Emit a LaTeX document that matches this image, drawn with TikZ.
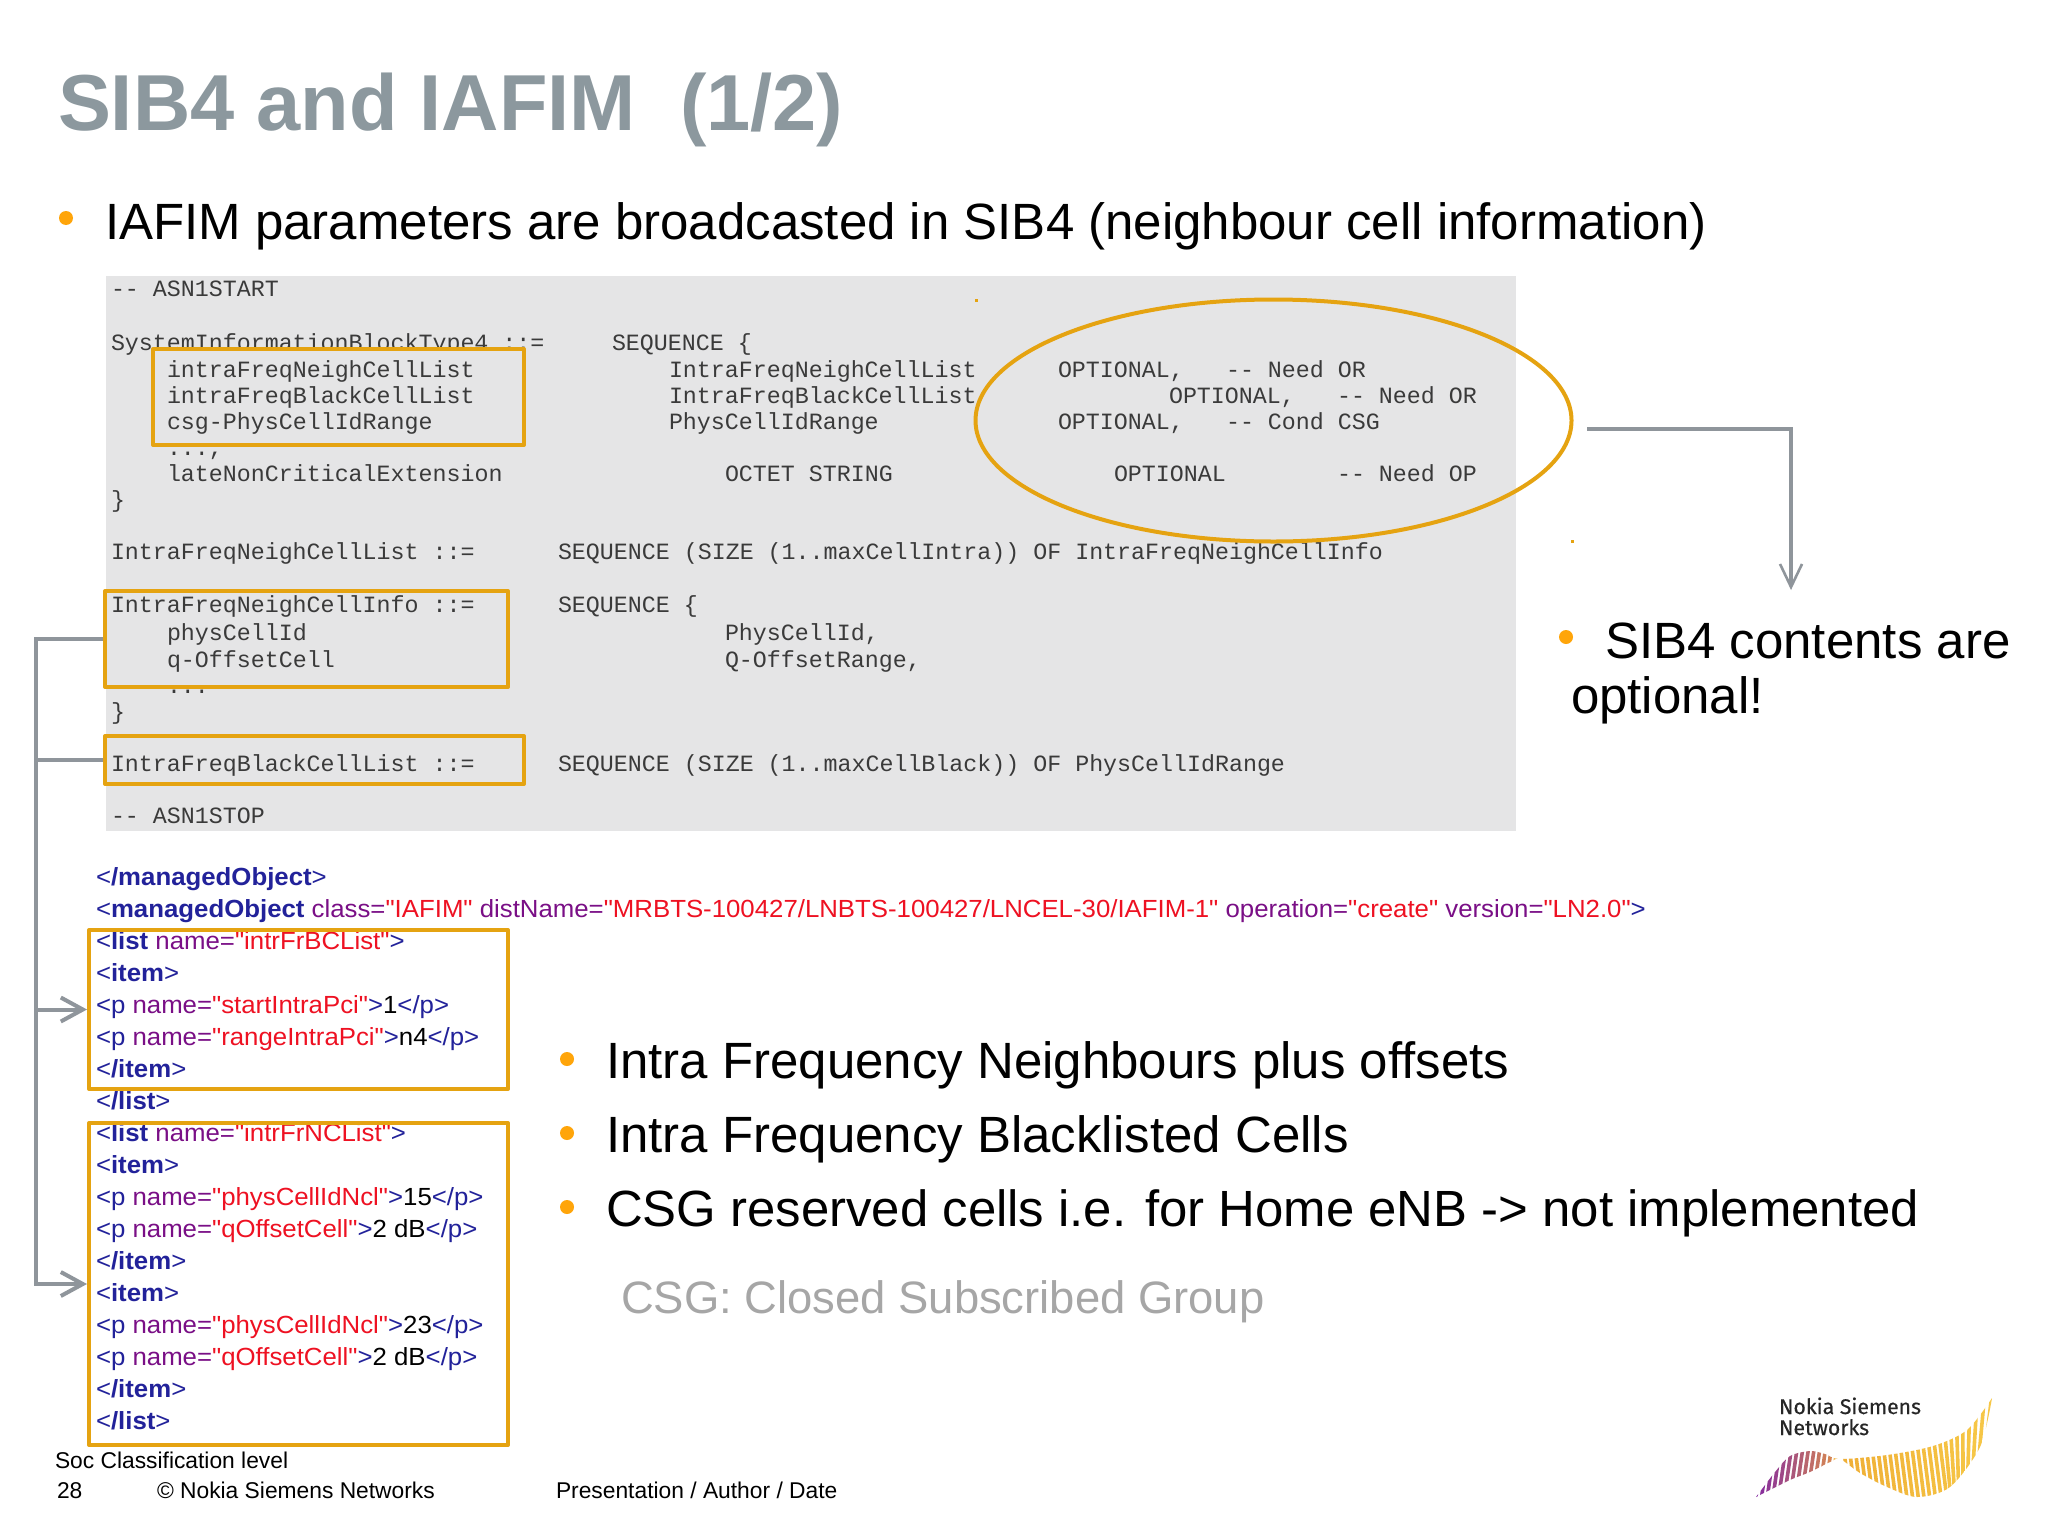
\documentclass[tikz,border=0pt]{standalone}
\usepackage{fontspec}
\setmainfont{Liberation Sans}
\newfontfamily\asnf{Liberation Mono}
\newfontfamily\logof[FakeBold=0.4]{Fira Sans}
\newfontfamily\xmlf[FakeStretch=1.04]{Liberation Sans}
\usetikzlibrary{shapes.geometric,arrows.meta}
\definecolor{titlegray}{HTML}{8C989E}
\definecolor{panel}{HTML}{E5E5E6}
\definecolor{hilite}{HTML}{E5A311}
\definecolor{bul}{HTML}{FFA50A}
\definecolor{conn}{HTML}{8F959B}
\definecolor{asntxt}{HTML}{3A3A3A}
\definecolor{tagc}{HTML}{22229A}
\definecolor{namec}{HTML}{7A0F86}
\definecolor{valc}{HTML}{EE1122}
\definecolor{lgA}{HTML}{7A1FA8}
\definecolor{lgB}{HTML}{D98A50}
\definecolor{lgC}{HTML}{EFAE35}
\definecolor{lgD}{HTML}{F7C948}
\tikzset{
  txt/.style={anchor=base west,inner sep=0pt,outer sep=0pt},
  asnt/.style={txt,font=\asnf\fontsize{11.65}{12}\selectfont,text=asntxt},
  xmlt/.style={txt,font=\xmlf\fontsize{12.4}{13}\selectfont,text=black},
  bigt/.style={txt,font=\fontsize{25.5}{27}\selectfont,text=black},
  foot/.style={txt,font=\fontsize{11.4}{13}\selectfont,text=black},
  bulletdot/.style={circle,fill=bul,inner sep=0pt,minimum size=7pt},
  speck/.style={rectangle,fill=hilite,inner sep=0pt,minimum size=1.5pt},
  obox/.style={draw=hilite,line width=2pt,inner sep=0pt,outer sep=1pt,line join=round},
  connline/.style={draw=conn,line width=2pt},
  chev/.style={-{Straight Barb[length=11pt,width=12pt,line width=2pt]}},
}
\newcommand\tg[1]{\textcolor{tagc}{#1}}
\newcommand\tgb[1]{\textcolor{tagc}{\bfseries #1}}
\newcommand\nm[1]{\textcolor{namec}{#1}}
\newcommand\vl[1]{\textcolor{valc}{#1}}
\newcommand\asn[4]{\node[asnt] (#1) at (#2,{#3+1.5}) {#4};}
\newcommand\xl[3]{\node[xmlt] (#1) at (96,{885+32.05*#2}) {#3};}
\begin{document}
\begin{tikzpicture}[x=0.5pt,y=-0.5pt]
\fill[white] (0,0) rectangle (2048,1536);
\useasboundingbox (0,0) rectangle (2048,1536);

\node[txt,font=\bfseries\fontsize{39.7}{42}\selectfont,text=titlegray] (title) at (58,131) {SIB4 and IAFIM\ \ (1/2)};
\node[bulletdot] (b0) at (66,218) {};
\node[bigt] (t0) at (105,239) {IAFIM parameters are broadcasted in SIB4 (neighbour cell information)};

\node[rectangle,fill=panel,inner sep=0pt,anchor=north west,minimum width=705pt,minimum height=277.5pt] (panelbox) at (106,276) {};

\asn{a1}{111}{295}{-- ASN1START}
\asn{a2}{111}{349}{SystemInformationBlockType4 ::=}
\asn{a3}{612}{349}{SEQUENCE \{}
\asn{a4}{167}{454}{...,}
\asn{a5}{167}{480}{lateNonCriticalExtension}
\asn{a6}{725}{480}{OCTET STRING}
\asn{a7}{1114}{480}{OPTIONAL}
\asn{a8}{1337}{480}{-- Need OP}
\asn{a9}{111}{506}{\}}
\asn{a10}{111}{558}{IntraFreqNeighCellList ::=}
\asn{a11}{558}{558}{SEQUENCE (SIZE (1..maxCellIntra)) OF IntraFreqNeighCellInfo}
\asn{a12}{558}{611}{SEQUENCE \{}
\asn{a13}{725}{639}{PhysCellId,}
\asn{a14}{725}{666}{Q-OffsetRange,}
\asn{a15}{167}{692}{...}
\asn{a16}{111}{718}{\}}
\asn{a17}{558}{770}{SEQUENCE (SIZE (1..maxCellBlack)) OF PhysCellIdRange}
\asn{a18}{111}{822}{-- ASN1STOP}
\asn{a19}{669}{376}{IntraFreqNeighCellList}
\asn{a20}{669}{402}{IntraFreqBlackCellList}
\asn{a21}{669}{428}{PhysCellIdRange}
\asn{a22}{1058}{376}{OPTIONAL,}
\asn{a23}{1226}{376}{-- Need OR}
\asn{a24}{1169}{402}{OPTIONAL,}
\asn{a25}{1337}{402}{-- Need OR}
\asn{a26}{1058}{428}{OPTIONAL,}
\asn{a27}{1226}{428}{-- Cond CSG}

\node[obox,fill=panel,minimum width=185.5pt,minimum height=48pt] (box1) at (338.5,397) {};
\node[obox,fill=panel,minimum width=201.5pt,minimum height=48pt] (box2) at (306.5,639) {};
\node[obox,fill=panel,minimum width=209.5pt,minimum height=24pt] (box3) at (314.5,760) {};

\asn{i1}{167}{376}{intraFreqNeighCellList}
\asn{i2}{167}{402}{intraFreqBlackCellList}
\asn{i3}{167}{428}{csg-PhysCellIdRange}
\asn{i4}{111}{611}{IntraFreqNeighCellInfo ::=}
\asn{i5}{167}{639}{physCellId}
\asn{i6}{167}{666}{q-OffsetCell}
\asn{i7}{111}{770}{IntraFreqBlackCellList ::=}

\node[ellipse,draw=hilite,line width=2pt,inner sep=0pt,minimum width=298pt,minimum height=121pt] (oval) at (1273.5,420.5) {};
\node[speck] (s1) at (976,300) {};
\node[speck] (s2) at (1572,541) {};

\xl{x0}{0}{\tg{<}\tgb{/managedObject}\tg{>}}
\xl{x1}{1}{\tg{<}\tgb{managedObject} \nm{class=}\vl{"IAFIM"} \nm{distName=}\vl{"MRBTS-100427/LNBTS-100427/LNCEL-30/IAFIM-1"} \nm{operation=}\vl{"create"} \nm{version=}\vl{"LN2.0"}\tg{>}}
\xl{x2}{2}{\tg{<}\tgb{list} \nm{name=}\vl{"intrFrBCList"}\tg{>}}
\xl{x3}{3}{\tg{<}\tgb{item}\tg{>}}
\xl{x4}{4}{\tg{<}\tg{p} \nm{name=}\vl{"startIntraPci"}\tg{>}1\tg{</p>}}
\xl{x5}{5}{\tg{<}\tg{p} \nm{name=}\vl{"rangeIntraPci"}\tg{>}n4\tg{</p>}}
\xl{x6}{6}{\tg{<}\tgb{/item}\tg{>}}
\xl{x7}{7}{\tg{<}\tgb{/list}\tg{>}}
\xl{x8}{8}{\tg{<}\tgb{list} \nm{name=}\vl{"intrFrNCList"}\tg{>}}
\xl{x9}{9}{\tg{<}\tgb{item}\tg{>}}
\xl{x10}{10}{\tg{<}\tg{p} \nm{name=}\vl{"physCellIdNcl"}\tg{>}15\tg{</p>}}
\xl{x11}{11}{\tg{<}\tg{p} \nm{name=}\vl{"qOffsetCell"}\tg{>}2 dB\tg{</p>}}
\xl{x12}{12}{\tg{<}\tgb{/item}\tg{>}}
\xl{x13}{13}{\tg{<}\tgb{item}\tg{>}}
\xl{x14}{14}{\tg{<}\tg{p} \nm{name=}\vl{"physCellIdNcl"}\tg{>}23\tg{</p>}}
\xl{x15}{15}{\tg{<}\tg{p} \nm{name=}\vl{"qOffsetCell"}\tg{>}2 dB\tg{</p>}}
\xl{x16}{16}{\tg{<}\tgb{/item}\tg{>}}
\xl{x17}{17}{\tg{<}\tgb{/list}\tg{>}}

\node[obox,minimum width=209.5pt,minimum height=79.5pt] (box4) at (298.5,1009.5) {};
\node[obox,minimum width=209.5pt,minimum height=161pt] (box5) at (298.5,1284) {};

% connectors
\coordinate (railT) at (36,639);
\coordinate (railB) at (36,1284);
\draw[connline,chev] (box2.west) -- (railT) -- (railB) -- (box5.west);
\draw[connline] (box3.west) -- (box3.west -| railT);
\draw[connline,chev] (box4.west -| railT) -- (box4.west);
\coordinate (sibFrom) at (1587,429);
\coordinate (sibEnd) at (1791,590);
\draw[connline,-{Straight Barb[length=11.5pt,width=11pt,line width=1.3pt]}] (sibFrom) -| (sibEnd);

\node[bulletdot] (b1) at (1566,637) {};
\node[bigt] (t1) at (1605,658) {SIB4 contents are};
\node[bigt] (t2) at (1571,713.5) {optional!};

\node[bulletdot] (b2) at (567,1059) {};
\node[bigt] (t3) at (606,1078) {Intra Frequency Neighbours plus offsets};
\node[bulletdot] (b3) at (567,1133) {};
\node[bigt] (t4) at (606,1152) {Intra Frequency Blacklisted Cells};
\node[bulletdot] (b4) at (567,1207) {};
\node[bigt,font=\fontsize{25.45}{27}\selectfont] (t5) at (606,1226.5) {CSG reserved cells i.e. for Home eNB -> not implemented};
\node[bigt,font=\fontsize{22.7}{25}\selectfont,text=black!35] (t6) at (621,1313) {CSG: Closed Subscribed Group};

\node[foot] (f1) at (55,1468) {Soc Classification level};
\node[foot] (f2) at (57,1498) {28};
\node[foot] (f3) at (157,1498) {© Nokia Siemens Networks};
\node[foot] (f4) at (556,1498) {Presentation / Author / Date};

% logo
\node[txt,font=\logof\fontsize{10.6}{12}\selectfont,text=black!85] (l1) at (1779,1414) {Nokia Siemens};
\node[txt,font=\logof\fontsize{10.6}{12}\selectfont,text=black!85] (l2) at (1779,1435) {Networks};
\begin{scope}
\clip plot[smooth] coordinates {(1756,1497) (1775,1472) (1790,1456) (1810,1451) (1825,1454) (1840,1459) (1887,1455) (1933,1446) (1967,1430) (1992,1398)}
  -- plot[smooth] coordinates {(1992,1398) (1980,1447) (1950,1487) (1917,1497) (1887,1487) (1860,1473) (1840,1459) (1830,1462) (1810,1472) (1790,1480) (1756,1497)} -- cycle;
\foreach \xx in {1752,1757.7,...,2000}{
  \pgfmathsetmacro\ss{\xx<1840 ? 8 : (\xx<1940 ? -7 : -7+(\xx-1940)*0.3)}
  \pgfmathsetmacro\mixa{max(0,min(100,100-(\xx-1756)/0.8))}
  \pgfmathsetmacro\mixr{max(0,min(100,(\xx-1835)/1.6))}
  \colorlet{stripe}{lgD!\mixr!lgC}
  \ifdim\xx pt<1835pt \colorlet{stripe}{lgA!\mixa!lgB}\fi
  \draw[stripe,line width=1.8pt] (\xx+\ss,1390) -- (\xx-\ss,1500);
}
\end{scope}
\end{tikzpicture}
\end{document}
